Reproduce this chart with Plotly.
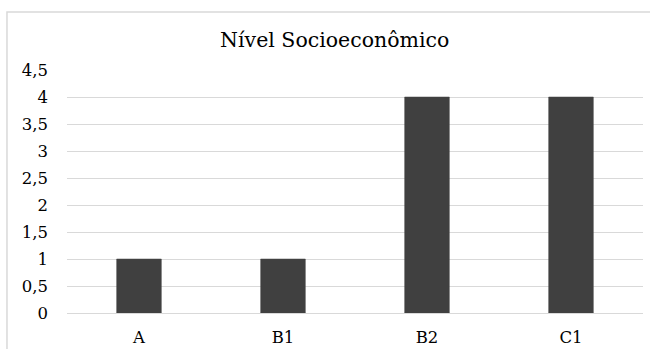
import plotly.graph_objects as go

categories = ["A", "B1", "B2", "C1"]
values = [1, 1, 4, 4]
y_ticks = [0, 0.5, 1, 1.5, 2, 2.5, 3, 3.5, 4, 4.5]
y_tick_labels = ["0", "0,5", "1", "1,5", "2", "2,5", "3", "3,5", "4", "4,5"]

FONT = "DejaVu Serif"

fig = go.Figure(
    go.Bar(
        x=categories,
        y=values,
        width=0.31,
        marker=dict(color="#404040", line=dict(color="#404040", width=0.5)),
    )
)

fig.update_layout(
    width=650,
    height=349,
    margin=dict(l=67, r=7, t=70, b=36, autoexpand=False),
    paper_bgcolor="white",
    plot_bgcolor="white",
    showlegend=False,
    font=dict(family=FONT, size=16.5, color="#000000"),
    title=dict(
        text="Nível Socioeconômico",
        x=0.515,
        xanchor="center",
        y=0.886,
        yanchor="middle",
        font=dict(family=FONT, size=20.5, color="#000000"),
    ),
    xaxis=dict(
        showgrid=False,
        showline=False,
        ticks="",
        automargin=False,
        ticklabelstandoff=12,
        tickfont=dict(family=FONT, size=16.5),
        range=[-0.5, 3.5],
    ),
    yaxis=dict(
        range=[0, 4.5],
        tickvals=y_ticks,
        ticktext=y_tick_labels,
        showgrid=True,
        gridcolor="#d9d9d9",
        gridwidth=1,
        zeroline=True,
        zerolinecolor="#d9d9d9",
        zerolinewidth=1,
        showline=False,
        ticks="",
        automargin=False,
        ticklabelstandoff=18,
        tickfont=dict(family=FONT, size=16.5),
    ),
    shapes=[
        dict(
            type="rect",
            xref="paper",
            yref="paper",
            x0=-0.1042,
            x1=1.2,
            y0=-0.3,
            y1=1.2387,
            line=dict(color="#d9d9d9", width=1.5),
            fillcolor="rgba(0,0,0,0)",
            layer="below",
        )
    ],
)

fig.write_html("out.html")
